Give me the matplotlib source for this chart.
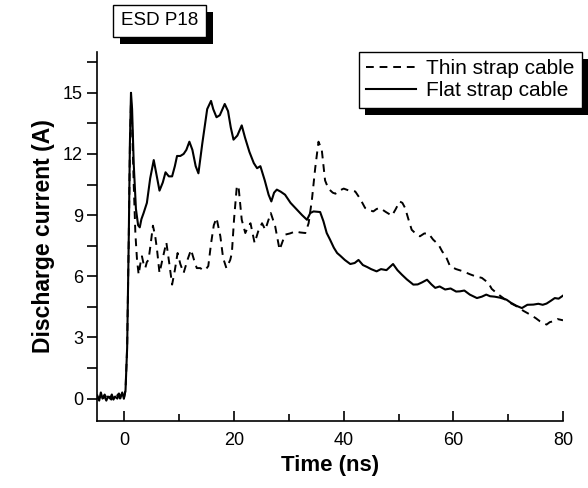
import matplotlib
matplotlib.use("Agg")
import matplotlib.pyplot as plt
from matplotlib.patches import Rectangle
from matplotlib.transforms import IdentityTransform
from matplotlib.ticker import MultipleLocator

plt.rcParams['font.family'] = ['Liberation Sans', 'DejaVu Sans']

# Flat strap cable (solid)
flat_t = [-5, -4.6, -4.3, -4.0, -3.7, -3.3, -3.0, -2.6, -2.3, -2.0, -1.7, -1.3, -1.0, -0.7, -0.4, -0.1,
          0.2, 0.5, 0.8, 1.0, 1.2, 1.4, 1.7, 2.1, 2.5, 2.8, 3.1, 3.5, 4.1, 4.7, 5.35, 5.9, 6.4, 7.0, 7.5,
          8.1, 8.7, 9.2, 9.6, 10.2, 10.8, 11.3, 11.85, 12.4, 13.0, 13.5, 14.2, 15.1, 15.8, 16.2, 16.8,
          17.4, 18.3, 18.9, 19.4, 19.9, 20.6, 21.4, 22.0, 22.8, 23.6, 24.2, 24.8, 25.6, 26.3, 26.8, 27.3,
          27.8, 28.5, 29.3, 30.3, 31.5, 32.4, 33.3, 33.9, 34.5, 35.7, 36.3, 36.9, 37.5, 38.2, 38.8, 39.4,
          40.2, 41.2, 42.0, 42.7, 43.5, 44.3, 45.0, 46.0, 46.8, 47.8, 49.0, 49.8, 50.6, 51.5, 52.7, 53.5,
          54.3, 55.2, 56.0, 56.7, 57.5, 58.5, 59.5, 60.5, 61.2, 62.0, 63.0, 64.3, 65.2, 66.0, 66.7, 67.5,
          68.5, 69.7, 70.5, 71.5, 72.5, 73.5, 74.6, 75.5, 76.3, 77.0, 77.8, 78.5, 79.2, 80.0]
flat_i = [0.1, -0.1, 0.3, 0.0, 0.15, -0.1, 0.1, 0.0, 0.2, -0.05, 0.1, 0.0, 0.25, 0.05, 0.3, 0.0,
          0.4, 2.5, 8.0, 12.5, 15.0, 14.2, 11.5, 9.3, 8.5, 8.4, 8.8, 9.1, 9.6, 10.8, 11.7, 10.9, 10.2, 10.6, 11.1,
          10.9, 10.9, 11.4, 11.9, 11.9, 12.0, 12.2, 12.6, 12.2, 11.4, 11.05, 12.5, 14.2, 14.6, 14.2, 13.8,
          13.9, 14.45, 14.1, 13.3, 12.7, 12.9, 13.4, 12.8, 12.1, 11.55, 11.3, 11.4, 10.7, 10.0, 9.67, 10.1,
          10.25, 10.15, 10.0, 9.6, 9.26, 9.0, 8.77, 9.1, 9.18, 9.15, 8.7, 8.12, 7.8, 7.4, 7.14, 7.0,
          6.8, 6.6, 6.65, 6.8, 6.55, 6.45, 6.35, 6.24, 6.35, 6.3, 6.6, 6.3, 6.08, 5.85, 5.59, 5.6,
          5.7, 5.83, 5.6, 5.43, 5.5, 5.35, 5.4, 5.25, 5.26, 5.3, 5.1, 4.93, 5.0, 5.1, 5.02, 5.0,
          4.95, 4.85, 4.7, 4.55, 4.44, 4.6, 4.61, 4.65, 4.6, 4.66, 4.8, 4.93, 4.9, 5.05]

# Thin strap cable (dashed)
thin_t = [-5, -4.7, -4.3, -4.0, -3.6, -3.2, -2.8, -2.4, -2.0, -1.6, -1.2, -0.8, -0.4, -0.1,
          0.2, 0.5, 0.8, 1.0, 1.2, 1.4, 1.7, 2.0, 2.3, 2.6, 2.9, 3.2, 3.5, 3.8, 4.1, 4.4, 4.8, 5.2, 5.6,
          5.95, 6.4, 7.0, 7.65, 8.2, 8.7, 9.2, 9.7, 10.2, 10.8, 11.5, 12.15, 12.7, 13.2, 13.85, 14.3, 14.8,
          15.3, 15.8, 16.3, 16.8, 17.5, 18.0, 18.6, 19.3, 19.6, 20.0, 20.5, 20.8, 21.4, 22.05, 22.5, 23.0,
          23.75, 24.4, 25.1, 25.7, 26.2, 26.7, 27.5, 28.3, 29.3, 30.2, 31.2, 32.0, 33.0, 33.6, 34.2, 34.8,
          35.4, 36.0, 36.6, 37.2, 38.0, 38.5, 39.2, 40.0, 41.0, 42.1, 43.0, 43.9, 44.6, 45.4, 46.0, 46.6,
          47.7, 48.8, 49.5, 50.2, 50.7, 51.2, 51.8, 52.4, 53.1, 53.9, 54.7, 55.5, 56.3, 57.3, 58.0, 58.5,
          59.4, 60.5, 61.8, 63.0, 64.0, 65.2, 66.4, 67.0, 68.0, 69.1, 70.3, 71.6, 72.8, 74.0, 75.0, 75.8,
          77.0, 77.6, 78.2, 79.0, 80.0]
thin_i = [0.2, 0.0, 0.1, -0.1, 0.2, 0.0, 0.15, -0.05, 0.1, 0.0, 0.2, 0.0, 0.15, 0.0,
          0.4, 2.5, 8.0, 12.3, 14.6, 13.5, 10.5, 8.1, 6.8, 6.08, 6.6, 6.98, 6.6, 6.4, 6.7, 6.8, 7.6, 8.48, 8.0,
          7.3, 6.16, 6.9, 7.66, 6.6, 5.59, 6.3, 7.14, 6.6, 6.16, 6.8, 7.3, 6.8, 6.4, 6.4, 6.3, 6.32,
          6.5, 7.6, 8.5, 8.86, 7.96, 6.9, 6.4, 6.8, 7.14, 8.8, 10.4, 10.44, 8.77, 8.12, 8.4, 8.6,
          7.63, 8.2, 8.6, 8.28, 8.7, 9.1, 8.45, 7.3, 8.04, 8.1, 8.2, 8.15, 8.12, 8.6, 9.75, 11.3,
          12.6, 12.2, 10.7, 10.3, 10.1, 10.05, 10.2, 10.3, 10.2, 10.16, 9.8, 9.35, 9.25, 9.18, 9.3, 9.35,
          9.15, 8.97, 9.3, 9.67, 9.6, 9.35, 8.8, 8.28, 8.1, 7.96, 8.1, 8.09, 7.8, 7.55, 7.2, 7.06,
          6.49, 6.35, 6.24, 6.1, 6.0, 5.92, 5.67, 5.38, 5.15, 4.93, 4.7, 4.52, 4.3, 4.12, 3.95, 3.79,
          3.63, 3.75, 3.79, 3.9, 3.84]

x_ticks = [0, 20, 40, 60, 80]
y_ticks = [0, 3, 6, 9, 12, 15]

fig = plt.figure(figsize=(5.88, 4.88), dpi=100)
ax = fig.add_axes([97/588, 1-421/488, (563-97)/588, (421-52)/488])

ax.plot(thin_t, thin_i, color='black', lw=1.4, linestyle=(0, (4, 3)), label='Thin strap cable')
ax.plot(flat_t, flat_i, color='black', lw=1.5, label='Flat strap cable')

ax.set_xlim(-5, 80)
ax.set_ylim(-1.1, 17.0)
ax.set_xticks(x_ticks)
ax.set_yticks(y_ticks)
ax.xaxis.set_minor_locator(MultipleLocator(10))
ax.yaxis.set_minor_locator(MultipleLocator(1.5))
ax.tick_params(axis='x', which='major', direction='in', length=7, width=1.2, labelsize=13, pad=8)
ax.tick_params(axis='x', which='minor', direction='in', length=5, width=1.2)
ax.tick_params(axis='y', which='major', direction='out', length=7, width=1.2, labelsize=13, pad=3)
ax.tick_params(axis='y', which='minor', direction='out', length=7, width=1.2)
for s in ['top', 'right']:
    ax.spines[s].set_visible(False)
for s in ['left', 'bottom']:
    ax.spines[s].set_linewidth(1.2)

ax.set_xlabel('Time (ns)', fontsize=16, fontweight='bold', labelpad=4)
ax.set_ylabel('Discharge current (A)', fontsize=16.5, fontweight='bold', labelpad=6)

leg = ax.legend(loc='upper right', bbox_to_anchor=(582/588, 1-52/488), bbox_transform=fig.transFigure,
                frameon=True, fancybox=False, framealpha=1.0, fontsize=15, handlelength=2.4,
                handletextpad=0.5, borderpad=0.35, labelspacing=0.15, borderaxespad=0)
leg.get_frame().set_edgecolor('black')
leg.get_frame().set_linewidth(1.0)
leg.get_frame().set_facecolor('white')
leg.set_zorder(10)

title = fig.text(159.5/588, 1-20.5/488, 'ESD P18', ha='center', va='center', fontsize=13.5,
                 bbox=dict(boxstyle='square,pad=0.4', fc='white', ec='black', lw=1.0), zorder=10)

fig.canvas.draw()
r = fig.canvas.get_renderer()

def add_shadow(container, bb, zorder, dx, dy):
    rect = Rectangle((bb.x0 + dx, bb.y0 - dy), bb.width, bb.height,
                     transform=IdentityTransform(), facecolor='black', edgecolor='none',
                     zorder=zorder, clip_on=False)
    container.add_artist(rect)

bb_leg = leg.get_frame().get_window_extent(r)
add_shadow(ax, bb_leg, 9, 6, 7)
bb_t = title.get_bbox_patch().get_window_extent(r)
add_shadow(fig, bb_t, 9, 7, 7)

fig.savefig('out.png', dpi=100)
